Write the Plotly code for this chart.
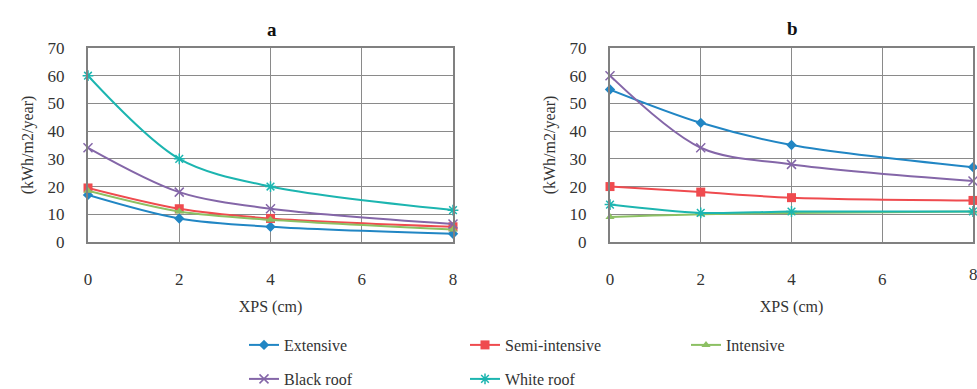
import plotly.graph_objects as go

xps = [0, 2, 4, 8]
series_names = ["Extensive", "Semi-intensive", "Intensive", "Black roof", "White roof"]

a_extensive = [17, 8.5, 5.5, 3]
a_semi = [19.5, 12, 8.5, 5.5]
a_intensive = [18.5, 11, 8, 4.5]
a_black = [34, 18, 12, 6.5]
a_white = [60, 30, 20, 11.5]

b_extensive = [55, 43, 35, 27]
b_semi = [20, 18, 16, 15]
b_intensive = [9, 10, 10.5, 11]
b_black = [60, 34, 28, 22]
b_white = [13.5, 10.5, 11, 11]

y_ticks = [0, 10, 20, 30, 40, 50, 60, 70]
x_ticks = [0, 2, 4, 6, 8]

colors = ["#2186C4", "#EF4B4F", "#8CC063", "#8466A8", "#1CB5B0"]
symbols = ["diamond", "square", "triangle-up", "x-thin", "asterisk"]
sizes = [8, 9, 8, 9, 9]
legend_ids = ["legend", "legend", "legend", "legend2", "legend2"]

W, H = 977, 389
FONT = "Liberation Serif, Times New Roman, DejaVu Serif, serif"

fig = go.Figure()

panels = [
    ([a_extensive, a_semi, a_intensive, a_black, a_white], "x", "y"),
    ([b_extensive, b_semi, b_intensive, b_black, b_white], "x2", "y2"),
]

for p, (data, xa, ya) in enumerate(panels):
    for i, vals in enumerate(data):
        thin = symbols[i] in ("x-thin", "asterisk")
        fig.add_trace(go.Scatter(
            x=xps, y=vals, name=series_names[i], xaxis=xa, yaxis=ya,
            mode="lines+markers",
            line=dict(color=colors[i], width=2, shape="spline", smoothing=0.9),
            marker=dict(symbol=symbols[i], size=sizes[i], color=colors[i],
                        line=dict(color=colors[i], width=1.5 if thin else 0)),
            showlegend=(p == 0), legend=legend_ids[i], cliponaxis=False,
        ))

def px_x(v):
    return v / W

def px_y(v):
    return 1 - v / H

ydom = [px_y(242), px_y(48)]
axis_common = dict(
    showgrid=True, gridcolor="#8a8a8a", gridwidth=1,
    showline=True, linecolor="#808080", linewidth=2, mirror=True,
    zeroline=False, ticks="",
    tickfont=dict(family=FONT, size=17, color="#333"),
)
title_font = dict(family=FONT, size=16, color="#333")
legend_common = dict(orientation="h", xref="paper", yref="paper",
                     x=px_x(244), xanchor="left", yanchor="middle",
                     entrywidth=176, entrywidthmode="pixels",
                     font=dict(family=FONT, size=16, color="#333"),
                     bgcolor="rgba(0,0,0,0)")

fig.update_layout(
    width=W, height=H,
    margin=dict(l=0, r=0, t=0, b=0, autoexpand=False),
    plot_bgcolor="white", paper_bgcolor="white",
    font=dict(family=FONT, color="#333"),
    xaxis=dict(domain=[px_x(88), px_x(453)], range=[0, 8], tickvals=x_ticks,
               ticklabelstandoff=21, anchor="y",
               title=dict(text="XPS (cm)", font=title_font, standoff=12),
               **axis_common),
    yaxis=dict(domain=ydom, range=[0, 70], tickvals=y_ticks, anchor="x",
               ticklabelstandoff=18,
               title=dict(text="(kWh/m2/year)", font=title_font, standoff=10),
               **axis_common),
    xaxis2=dict(domain=[px_x(610), px_x(973)], range=[0, 8], tickvals=x_ticks,
                ticklabelstandoff=21, anchor="y2",
                title=dict(text="XPS (cm)", font=title_font, standoff=12),
                **axis_common),
    yaxis2=dict(domain=ydom, range=[0, 70], tickvals=y_ticks, anchor="x2",
                ticklabelstandoff=18,
                title=dict(text="(kWh/m2/year)", font=title_font, standoff=10),
                **axis_common),
    legend=dict(y=px_y(345), **legend_common),
    legend2=dict(y=px_y(379), **legend_common),
    annotations=[
        dict(text="<b>a</b>", x=px_x(272), y=px_y(30), xref="paper", yref="paper",
             xanchor="center", yanchor="middle",
             showarrow=False, font=dict(family=FONT, size=19, color="#111")),
        dict(text="<b>b</b>", x=px_x(792), y=px_y(28), xref="paper", yref="paper",
             xanchor="center", yanchor="middle",
             showarrow=False, font=dict(family=FONT, size=19, color="#111")),
        # last tick label of panel b, which Plotly drops at the page edge
        dict(text=str(x_ticks[-1]), x=x_ticks[-1], xref="x2", y=px_y(274), yref="paper",
             xanchor="center", yanchor="middle",
             showarrow=False, font=dict(family=FONT, size=17, color="#333")),
    ],
)

fig.write_html("out.html")
